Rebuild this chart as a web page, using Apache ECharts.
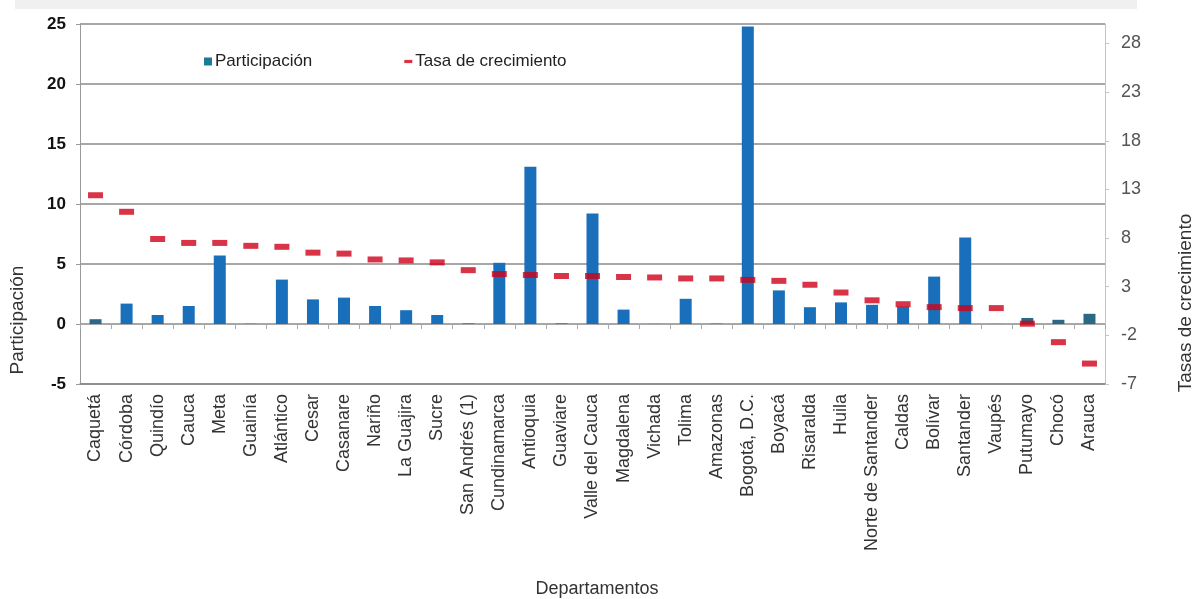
<!DOCTYPE html>
<html>
<head>
<meta charset="utf-8">
<script src="https://cdn.jsdelivr.net/npm/echarts@6/dist/echarts.min.js"></script>
<style>
  html, body { margin: 0; padding: 0; background: #fff; }
  #chart { width: 1197px; height: 599px; }
</style>
</head>
<body>
<div id="chart"></div>
<script>
// departamentos, ordenados por tasa de crecimiento
var departamentos = ['Caquetá', 'Córdoba', 'Quindío', 'Cauca', 'Meta', 'Guainía', 'Atlántico', 'Cesar',
  'Casanare', 'Nariño', 'La Guajira', 'Sucre', 'San Andrés (1)', 'Cundinamarca', 'Antioquia', 'Guaviare',
  'Valle del Cauca', 'Magdalena', 'Vichada', 'Tolima', 'Amazonas', 'Bogotá, D.C.', 'Boyacá', 'Risaralda',
  'Huila', 'Norte de Santander', 'Caldas', 'Bolívar', 'Santander', 'Vaupés', 'Putumayo', 'Chocó', 'Arauca'];
var participacion = [0.4, 1.7, 0.75, 1.5, 5.7, 0.02, 3.7, 2.05, 2.2, 1.5, 1.15, 0.75, 0.05, 5.1, 13.1, 0.05,
  9.2, 1.2, 0.01, 2.1, 0.03, 24.8, 2.8, 1.4, 1.8, 1.6, 1.45, 3.95, 7.2, 0.01, 0.5, 0.35, 0.85];
var tasaCrecimiento = [12.4, 10.7, 7.9, 7.5, 7.5, 7.2, 7.1, 6.5, 6.4, 5.8, 5.7, 5.5, 4.7, 4.3, 4.2, 4.1,
  4.1, 4.0, 3.95, 3.85, 3.85, 3.7, 3.6, 3.2, 2.4, 1.6, 1.2, 0.9, 0.8, 0.8, -0.8, -2.7, -4.9];
// barras que en la imagen salen mas oscuras
var barrasOscuras = ['Caquetá', 'Putumayo', 'Chocó', 'Arauca'];

var fuente = 'Liberation Sans, Arial, sans-serif';
var chart = echarts.init(document.getElementById('chart'));
var option = {
  animation: false,
  backgroundColor: '#fff',
  textStyle: { fontFamily: fuente },
  grid: { left: 80, right: 92, top: 24, bottom: 215 },
  legend: {
    left: 199, top: 48,
    itemGap: 92,
    itemWidth: 8, itemHeight: 8,
    textStyle: { fontSize: 17, color: '#222', padding: [0, 0, 0, -2] },
    data: [
      { name: 'Participación', icon: 'rect', itemStyle: { color: '#1a7a9a' } },
      { name: 'Tasa de crecimiento', icon: 'path://M0,0 L10,0 L10,4 L0,4 Z' }
    ]
  },
  xAxis: [
    {
      type: 'category',
      data: departamentos,
      axisLine: { onZero: false, lineStyle: { color: '#888', width: 1.5 } },
      axisTick: { show: false },
      axisLabel: { rotate: 90, interval: 0, fontSize: 18, color: '#333', margin: 10 }
    },
    {
      // marcas pequeñas sobre la linea del cero
      type: 'category',
      data: departamentos,
      position: 'bottom',
      axisLine: { show: false, onZero: true },
      axisTick: { show: true, interval: 0, length: 5, lineStyle: { color: '#aaa' } },
      axisLabel: { show: false },
      splitLine: { show: false }
    }
  ],
  yAxis: [
    {
      type: 'value', min: -5, max: 25, interval: 5,
      axisLine: { show: true, lineStyle: { color: '#999' } },
      axisTick: { show: true, length: 4, lineStyle: { color: '#999' } },
      axisLabel: { fontSize: 17, fontWeight: 'bold', color: '#111', margin: 14 },
      splitLine: { lineStyle: { color: '#8a8a8a', width: 1.5 } }
    },
    {
      type: 'value', min: -7, max: 30, interval: 5,
      position: 'right',
      axisLine: { show: true, lineStyle: { color: '#c4c4c4' } },
      axisTick: { show: true, length: 4, lineStyle: { color: '#c4c4c4' } },
      axisLabel: { fontSize: 18, color: '#555', margin: 16, showMaxLabel: false },
      splitLine: { show: false }
    }
  ],
  series: [
    {
      name: 'Participación',
      type: 'bar',
      yAxisIndex: 0,
      barWidth: 12,
      itemStyle: {
        color: function (p) {
          return barrasOscuras.indexOf(p.name) >= 0 ? '#2a6886' : '#1a6fbb';
        }
      },
      data: participacion
    },
    {
      name: 'Tasa de crecimiento',
      type: 'scatter',
      yAxisIndex: 1,
      symbol: 'rect',
      symbolSize: [15, 6],
      itemStyle: { color: '#cf0019' },
      data: tasaCrecimiento
    }
  ],
  graphic: [
    {
      type: 'rect', shape: { x: 15, y: 0, width: 1122, height: 9 },
      style: { fill: '#f0f0f0' }, silent: true
    },
    {
      type: 'text', x: 18, y: 320, rotation: Math.PI / 2,
      style: { text: 'Participación', fontSize: 19, fill: '#333', align: 'center', verticalAlign: 'middle',
        fontFamily: fuente }
    },
    {
      type: 'text', x: 1186, y: 303, rotation: Math.PI / 2,
      style: { text: 'Tasas de crecimiento', fontSize: 19, fill: '#333', align: 'center', verticalAlign: 'middle',
        fontFamily: fuente }
    },
    {
      type: 'text', x: 597, y: 589,
      style: { text: 'Departamentos', fontSize: 18, fill: '#333', align: 'center', verticalAlign: 'middle',
        fontFamily: fuente }
    }
  ]
};
chart.setOption(option);
</script>
</body>
</html>
